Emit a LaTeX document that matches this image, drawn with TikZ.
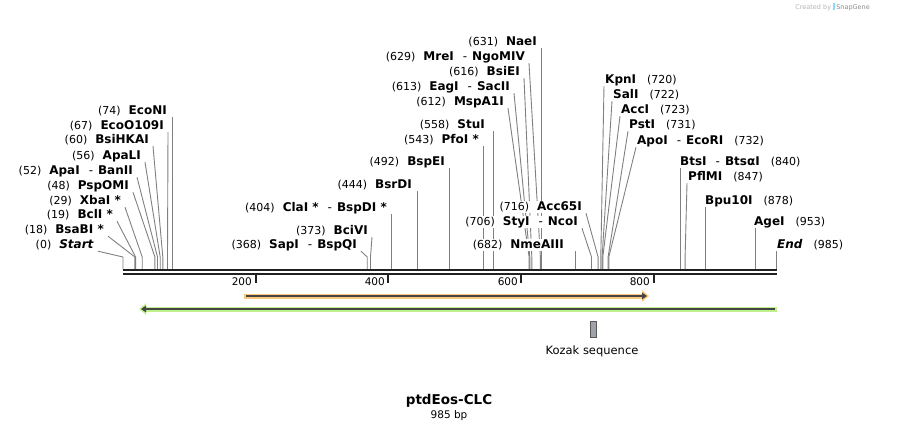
\documentclass[tikz,border=0pt]{standalone}
\usepackage{fontspec}
\setmainfont{DejaVu Sans}
\usetikzlibrary{arrows.meta,backgrounds}

\definecolor{cdshalo}{RGB}{250,200,122}
\definecolor{ntshalo}{RGB}{190,240,140}
\definecolor{featline}{RGB}{68,68,68}
\definecolor{kozakfill}{RGB}{160,162,170}

\newcommand{\sitepos}[1]{{\mdseries\fontsize{11}{12}\selectfont(#1)}}
\newcommand{\joinsep}{\hspace{9pt}{\mdseries -}\hspace{5pt}}

\begin{document}
\begin{tikzpicture}[x=1pt,y=-1pt,
    cut/.style={draw=black!50, line width=0.9pt},
    lname/.style={anchor=east, fill=white, inner xsep=4pt, inner ysep=1pt, text height=8pt, text depth=2pt,
        font=\fontsize{12}{14}\selectfont\bfseries},
    rname/.style={lname, anchor=west, inner xsep=1pt},
    backbone/.style={draw=black!87, line width=2.3pt},
    ticklbl/.style={anchor=east, inner sep=1pt, font=\fontsize{10.5}{12}\selectfont}]
    \useasboundingbox (0,0) rectangle (900,432);

    % sites on the backbone
    \coordinate (knee) at (0,257);
    \coordinate (s0) at (123.0,269.5);
    \coordinate (s18) at (134.9,269.5);
    \coordinate (s19) at (135.6,269.5);
    \coordinate (s29) at (142.2,269.5);
    \coordinate (s48) at (154.9,269.5);
    \coordinate (s52) at (157.5,269.5);
    \coordinate (s56) at (160.2,269.5);
    \coordinate (s60) at (162.8,269.5);
    \coordinate (s67) at (167.5,269.5);
    \coordinate (s74) at (172.1,269.5);
    \coordinate (s368) at (367.2,269.5);
    \coordinate (s373) at (370.5,269.5);
    \coordinate (s404) at (391.1,269.5);
    \coordinate (s444) at (417.6,269.5);
    \coordinate (s492) at (449.5,269.5);
    \coordinate (s543) at (483.3,269.5);
    \coordinate (s558) at (493.3,269.5);
    \coordinate (s612) at (529.1,269.5);
    \coordinate (s613) at (529.8,269.5);
    \coordinate (s616) at (531.8,269.5);
    \coordinate (s629) at (540.4,269.5);
    \coordinate (s631) at (541.7,269.5);
    \coordinate (s682) at (575.6,269.5);
    \coordinate (s706) at (591.5,269.5);
    \coordinate (s716) at (598.1,269.5);
    \coordinate (s720) at (600.8,269.5);
    \coordinate (s722) at (602.1,269.5);
    \coordinate (s723) at (602.8,269.5);
    \coordinate (s731) at (608.1,269.5);
    \coordinate (s732) at (608.8,269.5);
    \coordinate (s840) at (680.4,269.5);
    \coordinate (s847) at (685.1,269.5);
    \coordinate (s878) at (705.6,269.5);
    \coordinate (s953) at (755.4,269.5);
    \coordinate (s985) at (776.6,269.5);

    % left labels
    \node[lname] (econi) at (171,111) {\sitepos{74}\hspace{8pt}EcoNI};
    \node[lname] (ecoo) at (168,126) {\sitepos{67}\hspace{8pt}EcoO109I};
    \node[lname] (bsihkai) at (153,140) {\sitepos{60}\hspace{8pt}BsiHKAI};
    \node[lname] (apali) at (145,156) {\sitepos{56}\hspace{8pt}ApaLI};
    \node[lname] (apai) at (137,171) {\sitepos{52}\hspace{8pt}ApaI\joinsep BanII};
    \node[lname] (pspomi) at (133,186) {\sitepos{48}\hspace{8pt}PspOMI};
    \node[lname] (xbai) at (125,201) {\sitepos{29}\hspace{8pt}XbaI *};
    \node[lname] (bcli) at (117,215) {\sitepos{19}\hspace{8pt}BclI *};
    \node[lname] (bsabi) at (108,230) {\sitepos{18}\hspace{8pt}BsaBI *};
    \node[lname] (start) at (98,245) {\sitepos{0}\hspace{8pt}\textit{Start}};

    % middle labels
    \node[lname] (clai) at (391,208) {\sitepos{404}\hspace{8pt}ClaI *\joinsep BspDI *};
    \node[lname] (bcivi) at (372,231) {\sitepos{373}\hspace{8pt}BciVI};
    \node[lname] (sapi) at (361,245) {\sitepos{368}\hspace{8pt}SapI\joinsep BspQI};
    \node[lname] (bsrdi) at (416,185) {\sitepos{444}\hspace{8pt}BsrDI};
    \node[lname] (bspei) at (449,162) {\sitepos{492}\hspace{8pt}BspEI};
    \node[lname] (pfoi) at (483,140) {\sitepos{543}\hspace{8pt}PfoI *};
    \node[lname] (stui) at (489,125) {\sitepos{558}\hspace{8pt}StuI};
    \node[lname] (mspa) at (508,102) {\sitepos{612}\hspace{8pt}MspA1I};
    \node[lname] (eagi) at (514,87) {\sitepos{613}\hspace{8pt}EagI\joinsep SacII};
    \node[lname] (bsiei) at (524,72) {\sitepos{616}\hspace{8pt}BsiEI};
    \node[lname] (mrei) at (529,57) {\sitepos{629}\hspace{8pt}MreI\joinsep NgoMIV};
    \node[lname] (naei) at (541,42) {\sitepos{631}\hspace{8pt}NaeI};
    \node[lname] (acc65i) at (586,207) {\sitepos{716}\hspace{8pt}Acc65I};
    \node[lname] (styi) at (582,222) {\sitepos{706}\hspace{8pt}StyI\joinsep NcoI};
    \node[lname] (nmeaiii) at (568,245) {\sitepos{682}\hspace{8pt}NmeAIII};

    % right labels
    \node[rname] (kpni) at (604,80) {KpnI\hspace{11pt}\sitepos{720}};
    \node[rname] (sali) at (612,95) {SalI\hspace{11pt}\sitepos{722}};
    \node[rname] (acci) at (620,110) {AccI\hspace{11pt}\sitepos{723}};
    \node[rname] (psti) at (628,125) {PstI\hspace{11pt}\sitepos{731}};
    \node[rname] (apoi) at (636,141) {ApoI\joinsep EcoRI\hspace{11pt}\sitepos{732}};
    \node[rname] (btsi) at (679,162) {BtsI\joinsep BtsαI\hspace{11pt}\sitepos{840}};
    \node[rname] (pflmi) at (687,177) {PflMI\hspace{11pt}\sitepos{847}};
    \node[rname] (bpu) at (704,201) {Bpu10I\hspace{11pt}\sitepos{878}};
    \node[rname] (agei) at (753,222) {AgeI\hspace{11pt}\sitepos{953}};
    \node[rname] (endlbl) at (776,245) {\textit{End}\hspace{11pt}\sitepos{985}};

    % cut lines, behind the labels
    \begin{scope}[on background layer]
    \draw[cut] (s74 |- econi.south) -- (s74);
    \draw[cut] (ecoo.south east) -- (s67 |- knee) -- (s67);
    \draw[cut] (bsihkai.south east) -- (s60 |- knee) -- (s60);
    \draw[cut] (apali.south east) -- (s56 |- knee) -- (s56);
    \draw[cut] (apai.south east) -- (s52 |- knee) -- (s52);
    \draw[cut] (pspomi.south east) -- (s48 |- knee) -- (s48);
    \draw[cut] (xbai.south east) -- (s29 |- knee) -- (s29);
    \draw[cut] (bcli.south east) -- (s19 |- knee) -- (s19);
    \draw[cut] (bsabi.south east) -- (s18 |- knee) -- (s18);
    \draw[cut] (start.south east) -- (s0 |- knee) -- (s0);

    \draw[cut] (s404 |- clai.south) -- (s404);
    \draw[cut] (bcivi.south east) -- (s373 |- knee) -- (s373);
    \draw[cut] (sapi.south east) -- (s368 |- knee) -- (s368);
    \draw[cut] (s444 |- bsrdi.south) -- (s444);
    \draw[cut] (s492 |- bspei.south) -- (s492);
    \draw[cut] (s543 |- pfoi.south) -- (s543);
    \draw[cut] (s558 |- stui.south) -- (s558);
    \draw[cut] (mspa.south east) -- (s612 |- knee) -- (s612);
    \draw[cut] (eagi.south east) -- (s613 |- knee) -- (s613);
    \draw[cut] (bsiei.south east) -- (s616 |- knee) -- (s616);
    \draw[cut] (mrei.south east) -- (s629 |- knee) -- (s629);
    \draw[cut] (s631 |- naei.south) -- (s631);
    \draw[cut] (acc65i.south east) -- (s716 |- knee) -- (s716);
    \draw[cut] (styi.south east) -- (s706 |- knee) -- (s706);
    \draw[cut] (s682 |- nmeaiii.south) -- (s682);

    \draw[cut] (kpni.south west) -- (s720 |- knee) -- (s720);
    \draw[cut] (sali.south west) -- (s722 |- knee) -- (s722);
    \draw[cut] (acci.south west) -- (s723 |- knee) -- (s723);
    \draw[cut] (psti.south west) -- (s731 |- knee) -- (s731);
    \draw[cut] (apoi.south west) -- (s732 |- knee) -- (s732);
    \draw[cut] (s840 |- btsi.south) -- (s840);
    \draw[cut] (pflmi.south west) -- (s847 |- knee) -- (s847);
    \draw[cut] (s878 |- bpu.south) -- (s878);
    \draw[cut] (s953 |- agei.south) -- (s953);
    \draw[cut] (s985 |- endlbl.south) -- (s985);
    \end{scope}

    % backbone and ruler
    \coordinate (bbL) at (123,270.3);
    \coordinate (bbR) at (776.7,270.3);
    \draw[backbone] (bbL) -- (bbR);
    \draw[backbone] ([yshift=-4pt]bbL) -- ([yshift=-4pt]bbR);
    \coordinate (t200) at (255.7,275);
    \coordinate (t400) at (388.4,275);
    \coordinate (t600) at (521.2,275);
    \coordinate (t800) at (653.9,275);
    \draw[line width=2pt, black!87] (t200) -- ++(0,8);
    \draw[line width=2pt, black!87] (t400) -- ++(0,8);
    \draw[line width=2pt, black!87] (t600) -- ++(0,8);
    \draw[line width=2pt, black!87] (t800) -- ++(0,8);
    \node[ticklbl] (n200) at (253,282) {200};
    \node[ticklbl] (n400) at (386,282) {400};
    \node[ticklbl] (n600) at (519,282) {600};
    \node[ticklbl] (n800) at (651,282) {800};

    % features
    \coordinate (cdsS) at (244,296);
    \coordinate (cdsE) at (649,296);
    \draw[cdshalo, line width=5pt, -{Triangle[length=7pt,width=11pt]}] (cdsS) -- (cdsE);
    \draw[featline, line width=2pt, -{Triangle[length=5pt,width=6.5pt]}] ([xshift=2pt]cdsS) -- ([xshift=-2pt]cdsE);
    \coordinate (ntS) at (777,309);
    \coordinate (ntE) at (139,309);
    \draw[ntshalo, line width=5pt, -{Triangle[length=7pt,width=11pt]}] (ntS) -- (ntE);
    \draw[featline, line width=2pt, -{Triangle[length=5pt,width=6.5pt]}] ([xshift=-2pt]ntS) -- ([xshift=2pt]ntE);

    \node[draw=black!65, fill=kozakfill, line width=0.6pt, minimum width=6pt, minimum height=16pt, inner sep=0pt] (kozakbox) at (593,329) {};
    \node[font=\fontsize{11.5}{13}\selectfont] (kozak) at (592,351) {Kozak sequence};

    % title
    \node[font=\fontsize{13.5}{16}\selectfont\bfseries] (title) at (449,401) {ptdEos-CLC};
    \node[font=\fontsize{10.5}{12}\selectfont] (size) at (449,416) {985 bp};

    \node[anchor=east, inner sep=0pt, text=black!30, font=\fontsize{6.5}{8}\selectfont] (credit) at (870,7)
        {Created by\ \textcolor{cyan!45}{\rule[-0.5pt]{2pt}{6.5pt}}\,\textcolor{black!45}{SnapGene}};
\end{tikzpicture}
\end{document}
